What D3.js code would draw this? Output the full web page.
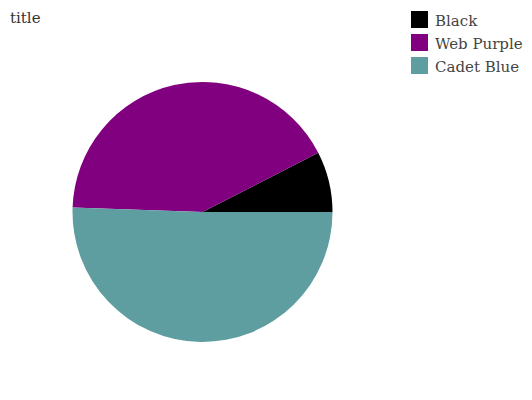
<!DOCTYPE html>
<html>
<head>
<meta charset="utf-8">
<script src="https://cdn.jsdelivr.net/npm/d3@7"></script>
<style>
  body { margin: 0; background: #fff; }
  text { font-family: "DejaVu Serif", serif; fill: #444; }
</style>
</head>
<body>
<div id="chart"></div>
<script>
// chart data
var categories = ["Black", "Web Purple", "Cadet Blue"];
var values = [7, 39, 47];
var colours = ["#000000", "#800080", "#5f9ea0"];

var width = 532,
    height = 400,
    radius = 130,
    cx = 202.5,
    cy = 212;

var svg = d3.select("#chart")
            .append("svg")
            .attr("width", width)
            .attr("height", height);

// title
svg.append("text")
   .attr("x", 10)
   .attr("y", 22.5)
   .style("font-size", "15px")
   .style("fill", "#333")
   .text("title");

var colour = d3.scaleOrdinal()
               .domain(categories)
               .range(colours);

// largest slice first, starting at three o'clock
var pie = d3.pie()
            .value(function(d) { return d.value; })
            .sort(function(a, b) { return b.value - a.value; })
            .startAngle(Math.PI / 2)
            .endAngle(Math.PI / 2 + 2 * Math.PI);

var arc = d3.arc()
            .innerRadius(0)
            .outerRadius(radius);

var data = categories.map(function(c, i) {
  return {name: c, value: values[i]};
});

svg.append("g")
   .attr("transform", "translate(" + cx + "," + cy + ")")
   .selectAll(".slice")
   .data(pie(data))
   .enter()
   .append("path")
   .attr("class", "slice")
   .attr("d", arc)
   .style("fill", function(d) { return colour(d.data.name); });

// legend
var legend = svg.selectAll(".legend")
                .data(categories)
                .enter()
                .append("g")
                .attr("class", "legend")
                .attr("transform", function(d, i) {
                  return "translate(411," + (11 + i * 23) + ")";
                });

legend.append("rect")
      .attr("width", 17)
      .attr("height", 17)
      .style("fill", function(d) { return colour(d); });

legend.append("text")
      .attr("x", 24)
      .attr("y", 14.5)
      .style("font-size", "15px")
      .text(function(d) { return d; });
</script>
</body>
</html>
